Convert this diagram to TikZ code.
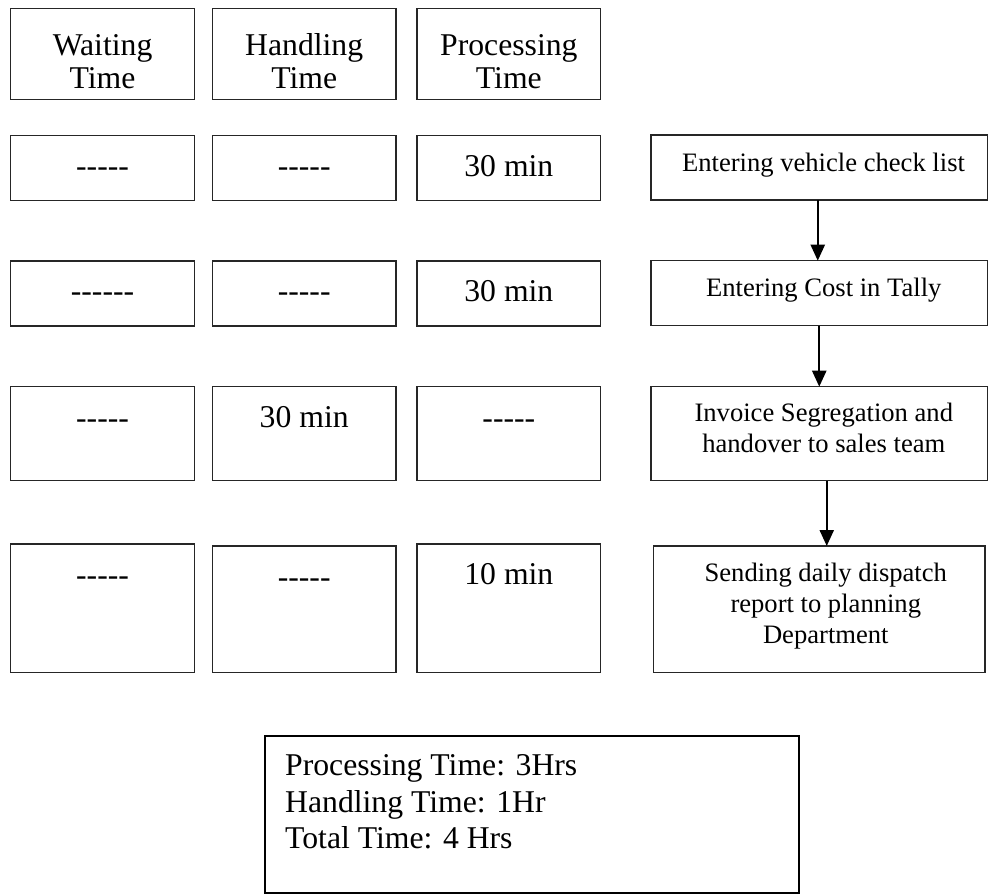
\documentclass[tikz,border=0pt]{standalone}
\usepackage{fontspec}
\setmainfont{Liberation Serif}
\usetikzlibrary{arrows.meta}
\newcommand\cellfont{\fontsize{31.7}{33}\selectfont}
\newcommand\flowfont{\fontsize{26.6}{31}\selectfont}
\newcommand\sumfont{\fontsize{31.7}{36.5}\selectfont}
% a single hyphen that never joins into an en or em dash
\newcommand\hy{\mbox{-}}
\begin{document}
\begin{tikzpicture}[x=1pt,y=-1pt,
  cellbox/.style={draw=black!85, line width=1.3pt, inner sep=0pt, outer sep=0pt, minimum width=183.7pt},
  flowbox/.style={draw=black!85, line width=1.3pt, inner sep=0pt, outer sep=0pt},
  sumbox/.style={draw=black, line width=2pt, inner sep=0pt, outer sep=0pt},
  celltext/.style={anchor=base, inner sep=0pt, font=\cellfont},
  flowtext/.style={anchor=base, inner sep=0pt, font=\flowfont},
  sumtext/.style={anchor=base west, inner sep=0pt, font=\sumfont},
  flowarrow/.style={line width=2.3pt, -{Triangle[length=16pt,width=14pt]}},
]
\useasboundingbox (0,0) rectangle (989,895);

% ---- header row ----
\node[cellbox, minimum height=91pt] (hw) at (102.55,53.8) {};
\node[cellbox, minimum height=91pt] (hh) at (304.2,53.8) {};
\node[cellbox, minimum height=91pt] (hp) at (508.85,53.8) {};
\node[celltext] (hwt) at (102.55,55) {\begin{tabular}[t]{@{}c@{}}Waiting\\Time\end{tabular}};
\node[celltext] (hht) at (304.2,55) {\begin{tabular}[t]{@{}c@{}}Handling\\Time\end{tabular}};
\node[celltext] (hpt) at (508.85,55) {\begin{tabular}[t]{@{}c@{}}Processing\\Time\end{tabular}};

% ---- row 1 ----
\node[cellbox, minimum height=65pt] (w1) at (102.55,167.8) {};
\node[cellbox, minimum height=65pt] (h1) at (304.2,167.8) {};
\node[cellbox, minimum height=65pt] (p1) at (508.85,167.8) {};
\node[celltext] (w1t) at (102.55,176.7) {\hy\hy\hy\hy\hy};
\node[celltext] (h1t) at (304.2,176.7) {\hy\hy\hy\hy\hy};
\node[celltext] (p1t) at (508.85,176.7) {30 min};

% ---- row 2 ----
\node[cellbox, minimum height=65pt] (w2) at (102.55,293.5) {};
\node[cellbox, minimum height=65pt] (h2) at (304.2,293.5) {};
\node[cellbox, minimum height=65pt] (p2) at (508.85,293.5) {};
\node[celltext] (w2t) at (102.55,301.7) {\hy\hy\hy\hy\hy\hy};
\node[celltext] (h2t) at (304.2,301.7) {\hy\hy\hy\hy\hy};
\node[celltext] (p2t) at (508.85,301.7) {30 min};

% ---- row 3 ----
\node[cellbox, minimum height=94pt] (w3) at (102.55,433.7) {};
\node[cellbox, minimum height=94pt] (h3) at (304.2,433.7) {};
\node[cellbox, minimum height=94pt] (p3) at (508.85,433.7) {};
\node[celltext] (w3t) at (102.55,428) {\hy\hy\hy\hy\hy};
\node[celltext] (h3t) at (304.2,427) {30 min};
\node[celltext] (p3t) at (508.85,428) {\hy\hy\hy\hy\hy};

% ---- row 4 ----
\node[cellbox, minimum height=128.7pt] (w4) at (102.55,608.35) {};
\node[cellbox, minimum height=126.7pt] (h4) at (304.2,609.35) {};
\node[cellbox, minimum height=128.7pt] (p4) at (508.85,608.35) {};
\node[celltext] (w4t) at (102.55,585) {\hy\hy\hy\hy\hy};
\node[celltext] (h4t) at (304.2,587) {\hy\hy\hy\hy\hy};
\node[celltext] (p4t) at (508.85,584) {10 min};

% ---- process flow ----
\node[flowbox, minimum width=336.5pt, minimum height=65pt] (f1) at (819.25,167.5) {};
\node[flowbox, minimum width=336.5pt, minimum height=65pt] (f2) at (819.25,293.2) {};
\node[flowbox, minimum width=336.5pt, minimum height=94pt] (f3) at (819.25,433.7) {};
\node[flowbox, minimum width=331.3pt, minimum height=126.7pt] (f4) at (819.35,609.35) {};
\node[flowtext] (f1t) at (823.5,171.7) {Entering vehicle check list};
\node[flowtext] (f2t) at (823.8,296.7) {Entering Cost in Tally};
\node[flowtext] (f3t) at (823.8,421.7) {\begin{tabular}[t]{@{}c@{}}Invoice Segregation and\\handover to sales team\end{tabular}};
\node[flowtext] (f4t) at (825.8,581.7) {\begin{tabular}[t]{@{}c@{}}Sending daily dispatch\\report to planning\\Department\end{tabular}};

\draw[flowarrow] ([xshift=-1.5pt]f1.south) -- ([xshift=-1.5pt]f1.south |- f2.north);
\draw[flowarrow] (f2.south) -- (f3.north);
\draw[flowarrow] ([xshift=7.5pt]f3.south) -- ([xshift=7.5pt]f3.south |- f4.north);

% ---- totals ----
\node[sumbox, minimum width=534.3pt, minimum height=157pt] (sum) at (532.15,814.5) {};
\node[sumtext] (sumt) at (285,775.5) {\begin{tabular}[t]{@{}l@{}}Processing Time: 3Hrs\\Handling Time: 1Hr\\Total Time: 4 Hrs\end{tabular}};
\end{tikzpicture}
\end{document}
